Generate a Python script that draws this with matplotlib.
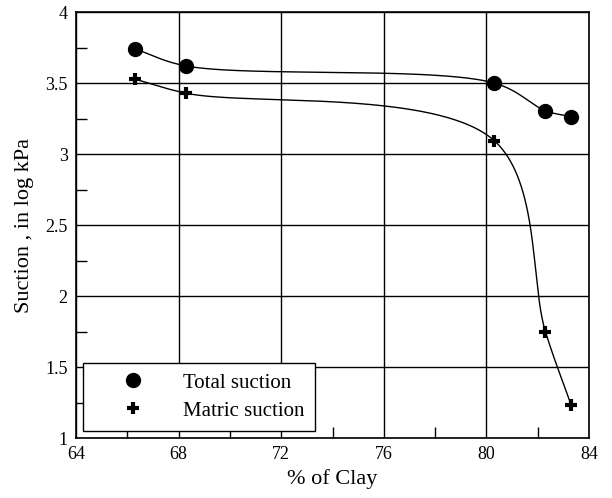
import numpy as np
import matplotlib.pyplot as plt

plt.rcParams['font.family'] = ['Liberation Serif', 'DejaVu Serif']

clay = [66.3, 68.3, 80.3, 82.3, 83.3]
total_suction = [3.74, 3.62, 3.50, 3.305, 3.263]
matric_suction = [3.527, 3.428, 3.095, 1.75, 1.235]


def smooth_curve(ax, x, y, alpha=0.5, num=200):
    # centripetal Catmull-Rom through the points, built in display space
    P = ax.transData.transform(np.column_stack([x, y]))
    P = np.vstack([2 * P[0] - P[1], P, 2 * P[-1] - P[-2]])
    res = []
    for i in range(1, len(P) - 2):
        p0, p1, p2, p3 = P[i - 1], P[i], P[i + 1], P[i + 2]
        t0 = 0.0
        t1 = t0 + np.linalg.norm(p1 - p0) ** alpha
        t2 = t1 + np.linalg.norm(p2 - p1) ** alpha
        t3 = t2 + np.linalg.norm(p3 - p2) ** alpha
        for t in np.linspace(t1, t2, num):
            a1 = (t1 - t) / (t1 - t0) * p0 + (t - t0) / (t1 - t0) * p1
            a2 = (t2 - t) / (t2 - t1) * p1 + (t - t1) / (t2 - t1) * p2
            a3 = (t3 - t) / (t3 - t2) * p2 + (t - t2) / (t3 - t2) * p3
            b1 = (t2 - t) / (t2 - t0) * a1 + (t - t0) / (t2 - t0) * a2
            b2 = (t3 - t) / (t3 - t1) * a2 + (t - t1) / (t3 - t1) * a3
            res.append((t2 - t) / (t2 - t1) * b1 + (t - t1) / (t2 - t1) * b2)
    r = ax.transData.inverted().transform(np.array(res))
    return r[:, 0], r[:, 1]


fig = plt.figure(figsize=(6.12, 4.98), dpi=100)
ax = fig.add_axes([76 / 612, 60 / 498, 513 / 612, 426 / 498])
ax.set_xlim(64, 84)
ax.set_ylim(1, 4)

for series in (total_suction, matric_suction):
    xs, ys = smooth_curve(ax, clay, series)
    ax.plot(xs, ys, color='black', lw=1)

ax.plot(clay, total_suction, 'o', color='black', ms=10, ls='none', label='Total suction')
ax.plot(clay, matric_suction, '+', color='black', ms=9, mew=3, ls='none', label='Matric suction')

ax.set_xticks([64, 68, 72, 76, 80, 84])
ax.set_xticks([66, 70, 74, 78, 82], minor=True)
ax.set_yticks([1, 1.5, 2, 2.5, 3, 3.5, 4])
ax.set_yticks([1.25, 1.75, 2.25, 2.75, 3.25, 3.75], minor=True)
ax.set_xticklabels(['64', '68', '72', '76', '80', '84'])
ax.set_yticklabels(['1', '1.5', '2', '2.5', '3', '3.5', '4'])
ax.tick_params(which='both', direction='in', labelsize=13, width=1, color='black')
ax.tick_params(which='major', length=0, pad=6)
ax.tick_params(which='minor', length=8)
ax.grid(True, which='major', color='black', lw=1)
for s in ax.spines.values():
    s.set_linewidth(1.2)

ax.set_xlabel('% of Clay', fontsize=16, labelpad=4)
ax.set_ylabel('Suction , in log kPa', fontsize=16, labelpad=8)

leg = ax.legend(loc='lower left', bbox_to_anchor=(0.0136, 0.0164), borderaxespad=0,
                fontsize=15, frameon=True, fancybox=False, edgecolor='black', framealpha=1,
                handletextpad=0.5, borderpad=0.5, labelspacing=0.4, handlelength=3.8)
leg.get_frame().set_linewidth(1)

fig.savefig('out.png', dpi=100)
